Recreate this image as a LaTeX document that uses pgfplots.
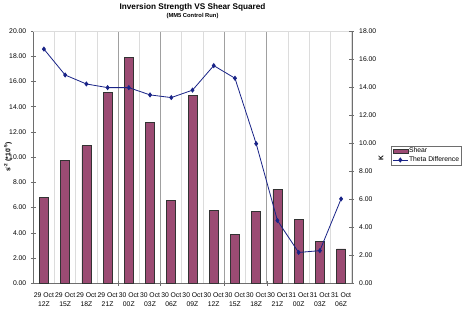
\documentclass[border=0pt]{standalone}
\usepackage{pgfplots}
\pgfplotsset{compat=1.18}
\usepackage{fontspec}
\setmainfont{Liberation Sans}
\definecolor{barfill}{RGB}{155,75,115}
\definecolor{linecol}{RGB}{25,35,135}
\definecolor{lightgrid}{RGB}{220,220,220}
\definecolor{darkgrid}{RGB}{160,160,160}
\definecolor{axgray}{RGB}{110,110,110}
\newcommand{\tf}{\fontsize{6.8}{8.8}\selectfont}
\pgfplotsset{
  barlegend/.style={legend image code/.code={\draw[fill=barfill, draw=black!80, line width=0.5pt] (0pt,-2.2pt) rectangle (15pt,2.2pt);}},
  linelegend/.style={legend image code/.code={\draw[##1, mark repeat=2, mark phase=2] plot coordinates {(0pt,0pt) (7.5pt,0pt) (15pt,0pt)};}},
}
\begin{document}
\begin{tikzpicture}[x=1pt,y=1pt]
\useasboundingbox (0,0) rectangle (462,312);
\node[font=\bfseries\fontsize{8.2}{9}\selectfont] at (192.5,305) {Inversion Strength VS Shear Squared};
\node[font=\bfseries\fontsize{5.8}{7}\selectfont] at (192.5,295.5) {(MM5 Control Run)};
\node[font=\bfseries\tf, rotate=90] at (8,155) {s\textsuperscript{-2} (*10\textsuperscript{-5})};
\node[font=\bfseries\tf, rotate=90] at (381,154) {K};
\begin{axis}[
  at={(33.3pt,28.7pt)}, anchor=south west,
  scale only axis, width=318.4pt, height=252.3pt,
  xmin=-0.5, xmax=14.5, ymin=0, ymax=20,
  axis x line*=bottom, axis y line*=left,
  axis line style={axgray},
  every tick/.style={axgray},
  tick align=center,
  ytick={0,2,...,20},
  major tick length=5pt,
  /pgf/number format/assume math mode=true,
  yticklabel={\pgfmathprintnumber[fixed, fixed zerofill, precision=2]{\tick}},
  yticklabel style={font=\tf, xshift=-1pt},
  xtick={0,...,14},
  xtick style={draw=none},
  xticklabels={{29 Oct\\12Z},{29 Oct\\15Z},{29 Oct\\18Z},{29 Oct\\21Z},{30 Oct\\00Z},{30 Oct\\03Z},{30 Oct\\06Z},{30 Oct\\09Z},{30 Oct\\12Z},{30 Oct\\15Z},{30 Oct\\18Z},{30 Oct\\21Z},{31 Oct\\00Z},{31 Oct\\03Z},{31 Oct\\06Z}},
  xticklabel style={font=\tf, align=center, yshift=-3.5pt},
  minor xtick={-0.5,0.5,...,14.5},
  minor tick length=5pt,
  xminorgrids, minor grid style={lightgrid, line width=0.8pt},
  extra x ticks={3.5,5.5,8.5,10.5},
  extra x tick labels={},
  extra x tick style={grid=major, major grid style={darkgrid, line width=1.1pt}, xtick style={draw=axgray}, major tick length=5pt},
  clip=false,
]
\draw[lightgrid, line width=0.8pt] (axis description cs:0,1) -- (axis description cs:1,1);
\addplot[ybar, bar width=9pt, fill=barfill, draw=black!80, line width=0.6pt] coordinates {
(0,6.81) (1,9.74) (2,10.90) (3,15.12) (4,17.89) (5,12.75) (6,6.57) (7,14.88)
(8,5.78) (9,3.85) (10,5.72) (11,7.44) (12,5.04) (13,3.35) (14,2.72)};
\end{axis}
\begin{axis}[
  at={(33.3pt,28.7pt)}, anchor=south west,
  scale only axis, width=318.4pt, height=252.3pt,
  xmin=-0.5, xmax=14.5, ymin=0, ymax=18,
  axis y line*=right, axis x line=none,
  axis line style={axgray},
  every tick/.style={axgray},
  tick align=center,
  major tick length=5pt,
  ytick={0,2,...,18},
  /pgf/number format/assume math mode=true,
  yticklabel={\pgfmathprintnumber[fixed, fixed zerofill, precision=2]{\tick}},
  yticklabel style={font=\tf, xshift=1.5pt},
  clip=false,
  legend style={at={(axis description cs:1.1225,0.5454)}, anchor=north west,
    draw=axgray, font=\tf, inner xsep=1.5pt, inner ysep=1.3pt,
    row sep=0.8pt, nodes={inner sep=0.8pt}},
  legend cell align=left,
]
\addlegendimage{barlegend}
\addlegendentry{Shear}
\addplot[color=linecol, line width=0.8pt, mark=diamond*, mark size=2pt,
  mark options={fill=linecol}, linelegend]
  coordinates {
(0,16.71) (1,14.86) (2,14.22) (3,13.96) (4,13.96) (5,13.44) (6,13.25) (7,13.78)
(8,15.53) (9,14.63) (10,9.96) (11,4.48) (12,2.20) (13,2.33) (14,6.02)};
\addlegendentry{Theta Difference}
\end{axis}
\end{tikzpicture}
\end{document}
